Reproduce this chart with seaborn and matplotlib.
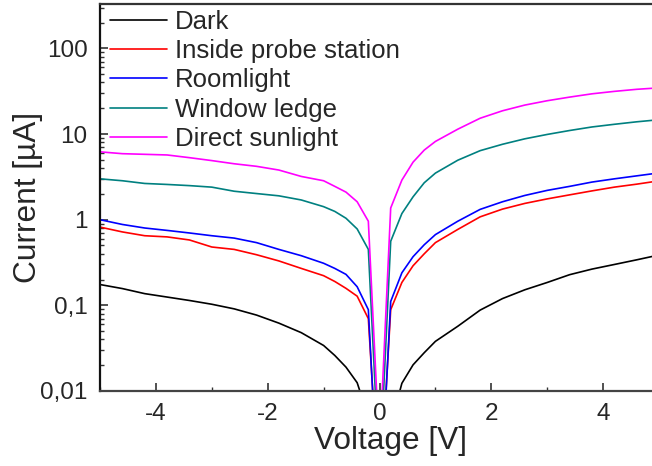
import pandas as pd
import numpy as np
import matplotlib
matplotlib.use('Agg')
import matplotlib.pyplot as plt
import matplotlib.ticker as mticker
import seaborn as sns

# Tension (V) et courants (uA)
voltage = [-5.0, -4.6, -4.2, -3.8, -3.4, -3.0, -2.6, -2.2, -1.8, -1.4, -1.0, -0.8, -0.6, -0.4, -0.2,
           0.0,
           0.2, 0.4, 0.6, 0.8, 1.0, 1.4, 1.8, 2.2, 2.6, 3.0, 3.4, 3.8, 4.2, 4.6, 4.9]

dark = [0.175, 0.157, 0.137, 0.125, 0.114, 0.103, 0.091, 0.077, 0.062, 0.048, 0.034, 0.026, 0.019, 0.0125, 0.005,
        0.0003,
        0.004, 0.0123, 0.0202, 0.028, 0.038, 0.057, 0.088, 0.12, 0.152, 0.185, 0.228, 0.265, 0.30, 0.34, 0.375]

probe_station = [0.82, 0.72, 0.65, 0.63, 0.58, 0.48, 0.45, 0.39, 0.33, 0.27, 0.222, 0.19, 0.158, 0.128, 0.07,
                 0.0005,
                 0.089, 0.185, 0.29, 0.40, 0.54, 0.77, 1.08, 1.33, 1.55, 1.75, 1.95, 2.17, 2.4, 2.6, 2.78]

roomlight = [1.0, 0.88, 0.80, 0.75, 0.70, 0.65, 0.61, 0.54, 0.45, 0.38, 0.31, 0.27, 0.23, 0.165, 0.089,
             0.0003,
             0.111, 0.24, 0.37, 0.51, 0.67, 0.96, 1.32, 1.62, 1.92, 2.2, 2.45, 2.75, 3.0, 3.25, 3.45]

window_ledge = [3.0, 2.85, 2.65, 2.58, 2.5, 2.4, 2.15, 2.02, 1.9, 1.7, 1.42, 1.25, 1.04, 0.78, 0.45,
                0.001,
                0.56, 1.18, 1.85, 2.7, 3.5, 4.95, 6.4, 7.6, 8.8, 9.9, 11.0, 12.1, 13.0, 13.9, 14.5]

sunlight = [6.2, 5.9, 5.8, 5.7, 5.3, 4.9, 4.5, 4.2, 3.8, 3.2, 2.85, 2.45, 2.1, 1.62, 0.96,
            0.002,
            1.37, 2.9, 4.7, 6.5, 8.2, 11.4, 15.3, 18.7, 21.8, 24.5, 27.0, 29.5, 31.5, 33.3, 34.3]

labels = ['Dark', 'Inside probe station', 'Roomlight', 'Window ledge', 'Direct sunlight']
colors = ['#000000', '#ff0000', '#0000ff', '#008080', '#ff00ff']

frames = []
for lab, vals in zip(labels, [dark, probe_station, roomlight, window_ledge, sunlight]):
    frames.append(pd.DataFrame({'Voltage': voltage, 'Current': vals, 'Condition': lab}))
df = pd.concat(frames, ignore_index=True)

sns.set_style('ticks')
plt.rcParams['font.family'] = ['Liberation Sans', 'DejaVu Sans']

fig = plt.figure(figsize=(6.52, 4.66), dpi=100)
# l'axe dépasse à droite de l'image (coupé comme dans l'original)
ax = fig.add_axes([100 / 652, 1 - 391 / 466, 580 / 652, 387 / 466])

sns.lineplot(data=df, x='Voltage', y='Current', hue='Condition', palette=colors,
             estimator=None, sort=False, linewidth=1.2, ax=ax)

ax.set_yscale('log')
ax.set_xlim(-5, 5.375)
ax.set_ylim(0.01, 330)

ax.xaxis.set_major_locator(mticker.MultipleLocator(2))
ax.xaxis.set_minor_locator(mticker.MultipleLocator(1))
ax.xaxis.set_major_formatter(mticker.FuncFormatter(lambda v, p: f'{v:g}'))

ytick_vals = [0.01, 0.1, 1, 10, 100]
ytick_labels = ['0,01', '0,1', '1', '10', '100']
ax.set_yticks(ytick_vals)
ax.set_yticklabels(ytick_labels)
ax.yaxis.set_minor_locator(mticker.LogLocator(base=10, subs=np.arange(2, 10)))
ax.yaxis.set_minor_formatter(mticker.NullFormatter())

ax.tick_params(axis='both', which='major', direction='in', length=6, width=1.2,
               labelsize=17.5, color='#333333')
ax.tick_params(axis='y', which='major', pad=9)
ax.tick_params(axis='x', which='major', pad=9)
ax.tick_params(axis='both', which='minor', direction='in', length=3, width=1.0, color='#333333')
ax.tick_params(top=False, right=False, which='both')

ax.spines['left'].set_color('#111111')
ax.spines['bottom'].set_color('#444444')
ax.spines['top'].set_color('#333333')
for side in ['left', 'bottom', 'top']:
    ax.spines[side].set_linewidth(1.6)
ax.spines['right'].set_visible(False)

ax.set_xlabel('Voltage [V]', fontsize=22.8, labelpad=0)
ax.set_ylabel('Current [µA]', fontsize=22.8)
ax.yaxis.set_label_coords(-57 / 580, 0.5)

ax.legend(loc='upper left', frameon=False, fontsize=18.5, handlelength=2.2,
          handletextpad=0.3, labelspacing=0.21, borderaxespad=0.2, borderpad=0.2,
          bbox_to_anchor=(0, 1.012))

fig.savefig('out.png', dpi=100)
